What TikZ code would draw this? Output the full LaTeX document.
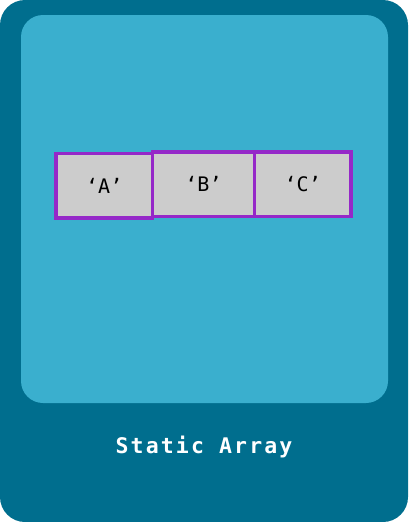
\documentclass[tikz,border=0pt]{standalone}
\usepackage{fontspec}
\setmonofont{DejaVu Sans Mono}
\newfontfamily\labelfont[LetterSpace=10]{DejaVu Sans Mono}
\usepackage{xcolor}
\usetikzlibrary{positioning}

\definecolor{cardouter}{HTML}{006E8E}
\definecolor{cardinner}{HTML}{3AAFCE}
\definecolor{cellfill}{HTML}{CCCCCC}
\definecolor{cellline}{HTML}{9528C8}

\begin{document}
\begin{tikzpicture}[x=1pt, y=-1pt,
    cell/.style={draw=cellline, fill=cellfill, line width=3.5pt, minimum height=64.5pt,
                 inner sep=0pt, font=\ttfamily\fontsize{20}{24}\selectfont},
    caption/.style={text=white, font=\labelfont\bfseries\fontsize{21.5}{26}\selectfont}]
  \useasboundingbox (0,0) rectangle (408,522);
  % card background
  \fill[cardouter, rounded corners=25pt] (0,0) rectangle (408,522);
  \fill[cardinner, rounded corners=22pt] (21,15) rectangle (388,403);
  % array cells
  \node[cell, minimum width=96.5pt] (cellA) at (104.25,185.5) {‘A’};
  \node[cell, minimum width=102pt, right=-3.5pt of cellA, yshift=1.5pt] (cellB) {‘B’};
  \node[cell, minimum width=96.5pt, right=-3.5pt of cellB] (cellC) {‘C’};
  \node[caption] (title) at (204,447) {Static Array};
\end{tikzpicture}
\end{document}
